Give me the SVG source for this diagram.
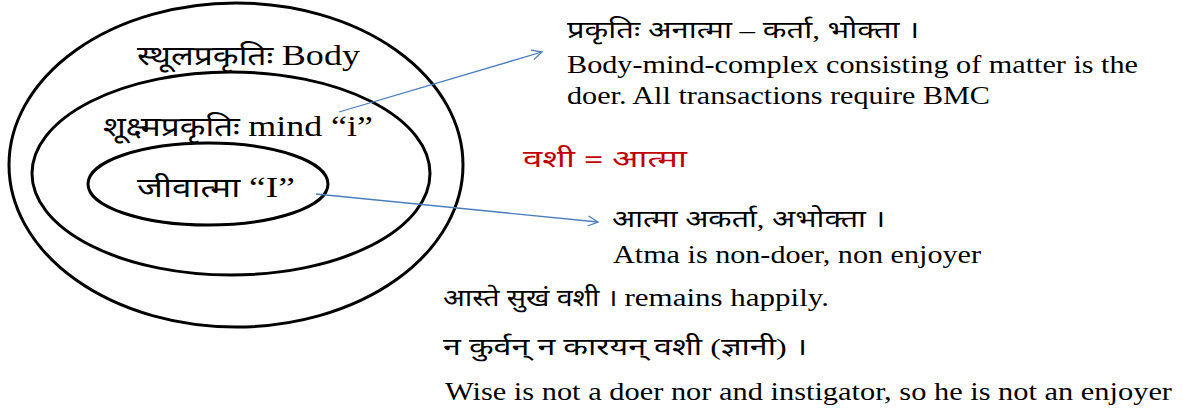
<svg xmlns="http://www.w3.org/2000/svg" width="1183" height="414" viewBox="0 0 1183 414">
<style>
.ell{fill:none;stroke:#000;stroke-width:3}
.t{font-family:"Liberation Serif","Noto Sans Devanagari","Noto Serif Devanagari",serif;font-size:24px;fill:#000}
.en{font-size:26px}
.big{font-size:27px}
.bigen{font-size:29px}
.red{fill:#c00000;font-family:"Noto Sans Devanagari","Liberation Sans",sans-serif}
.conn{fill:none;stroke:#4a7ebb;stroke-width:1.3}
</style>
<defs>
<marker id="arr" viewBox="0 0 12 12" refX="11" refY="6" markerWidth="12" markerHeight="12" markerUnits="userSpaceOnUse" orient="auto">
<path d="M1,1 L11,6 L1,11" fill="none" stroke="#4a7ebb" stroke-width="1.3"/>
</marker>
</defs>
<g id="outer">
<ellipse class="ell" cx="236" cy="165" rx="227" ry="162"/>
<text class="t big" x="137" y="65" textLength="223" lengthAdjust="spacingAndGlyphs">स्थूलप्रकृतिः <tspan class="bigen">Body</tspan></text>
</g>
<g id="middle">
<ellipse class="ell" cx="231" cy="173.5" rx="199" ry="101.5"/>
<text class="t big" x="103" y="136" textLength="270" lengthAdjust="spacingAndGlyphs">शूक्ष्मप्रकृतिः <tspan class="bigen">mind “i”</tspan></text>
</g>
<g id="inner">
<ellipse class="ell" cx="208" cy="184" rx="120" ry="41"/>
<text class="t big" x="137" y="197" textLength="158" lengthAdjust="spacingAndGlyphs">जीवात्मा <tspan class="bigen">“I”</tspan></text>
</g>
<g id="prakriti">
<text class="t" x="567" y="38" textLength="352" lengthAdjust="spacingAndGlyphs">प्रकृतिः अनात्मा – कर्ता, भोक्ता ।</text>
<text class="t en" x="567" y="73" textLength="571" lengthAdjust="spacingAndGlyphs">Body-mind-complex consisting of matter is the</text>
<text class="t en" x="567" y="104" textLength="423" lengthAdjust="spacingAndGlyphs">doer. All transactions require BMC</text>
</g>
<g id="vashi">
<text class="t red" x="523" y="167" textLength="164" lengthAdjust="spacingAndGlyphs">वशी = आत्मा</text>
</g>
<g id="atma">
<text class="t" x="612" y="227" textLength="273" lengthAdjust="spacingAndGlyphs">आत्मा  अकर्ता, अभोक्ता ।</text>
<text class="t en" x="613" y="263" textLength="368" lengthAdjust="spacingAndGlyphs">Atma is non-doer, non enjoyer</text>
</g>
<g id="notes">
<text class="t" x="443" y="306" textLength="386" lengthAdjust="spacingAndGlyphs">आस्ते सुखं वशी । <tspan class="en">remains happily.</tspan></text>
<text class="t" x="443" y="355" textLength="364" lengthAdjust="spacingAndGlyphs">न कुर्वन् न कारयन् वशी (ज्ञानी) ।</text>
<text class="t en" x="445" y="400" textLength="727" lengthAdjust="spacingAndGlyphs">Wise is not a doer nor and  instigator, so he is not an enjoyer</text>
</g>
<g id="connectors">
<line class="conn" x1="339" y1="112" x2="542" y2="52" marker-end="url(#arr)"/>
<line class="conn" x1="316" y1="194" x2="598" y2="222" marker-end="url(#arr)"/>
</g>
</svg>
